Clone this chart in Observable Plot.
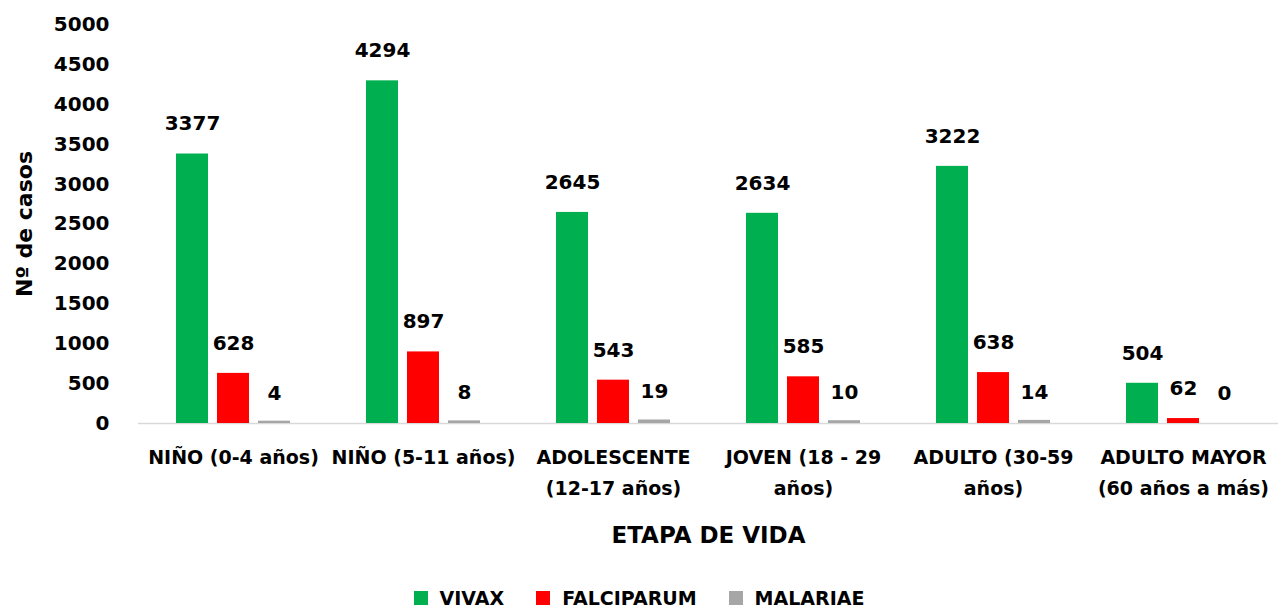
<!DOCTYPE html>
<html>
<head>
<meta charset="utf-8">
<script src="https://cdn.jsdelivr.net/npm/d3@7"></script>
<script src="https://cdn.jsdelivr.net/npm/@observablehq/plot@0.6"></script>
<style>
  html, body { margin: 0; padding: 0; background: #fff; }
  body { width: 1278px; font-family: "DejaVu Sans", sans-serif; }
  #legend { display: flex; justify-content: center; align-items: center; height: 42px; padding-top: 12px; font-weight: bold; font-size: 19px; color: #000; }
  .item { display: flex; align-items: center; margin: 0 16px; }
  .sw { width: 14px; height: 14px; margin-right: 12px; }
</style>
</head>
<body>
<div id="chart"></div>
<div id="legend"></div>
<script>
const categories = ["NIÑO (0-4 años)", "NIÑO (5-11 años)", "ADOLESCENTE\n(12-17 años)", "JOVEN (18 - 29\naños)", "ADULTO (30-59\naños)", "ADULTO MAYOR\n(60 años a más)"];
const series = ["VIVAX", "FALCIPARUM", "MALARIAE"];
const vivax = [3377, 4294, 2645, 2634, 3222, 504];
const falciparum = [628, 897, 543, 585, 638, 62];
const malariae = [4, 8, 19, 10, 14, 0];
const colors = ["#00B050", "#FF0000", "#A6A6A6"];
const yTicks = [0, 500, 1000, 1500, 2000, 2500, 3000, 3500, 4000, 4500, 5000];

const values = [vivax, falciparum, malariae];
const data = categories.flatMap((c, i) => series.map((s, j) => ({cat: c, serie: s, value: values[j][i]})));

const chart = Plot.plot({
  width: 1278,
  height: 565,
  marginLeft: 137,
  marginRight: 0,
  marginTop: 24,
  marginBottom: 142,
  style: {fontFamily: "DejaVu Sans", fontWeight: "bold", fontSize: "20px", color: "#000", background: "#fff"},
  fx: {domain: categories, padding: 0},
  x: {domain: series, paddingInner: 0.21, paddingOuter: 0.88, axis: null},
  y: {domain: [0, 5000]},
  color: {domain: series, range: colors},
  marks: [
    Plot.axisY({ticks: yTicks, tickFormat: d => String(d), tickSize: 0, tickPadding: 29, label: null, fontSize: 20, fontWeight: "bold"}),
    Plot.axisY({ticks: [], tickSize: 0, label: "Nº de casos", labelAnchor: "center", labelArrow: "none", labelOffset: 122, fontSize: 22, fontWeight: "bold"}),
    Plot.axisFx({anchor: "bottom", tickSize: 0, tickPadding: 18, label: null, fontSize: 19, fontWeight: "bold", lineHeight: 1.65}),
    Plot.axisFx({anchor: "bottom", ticks: [], tickSize: 0, label: "ETAPA DE VIDA", labelAnchor: "center", labelArrow: "none", labelOffset: 119, fontSize: 23, fontWeight: "bold"}),
    Plot.ruleY([0], {stroke: "#d9d9d9", strokeWidth: 1.5}),
    Plot.barY(data, {fx: "cat", x: "serie", y: "value", fill: "serie"}),
    Plot.barY(data.filter(d => d.serie === "MALARIAE" && d.value > 0), {fx: "cat", x: "serie", y: "value", fill: "serie", insetTop: -2}),
    Plot.text(data, {fx: "cat", x: "serie", y: "value", text: d => String(d.value), dy: -30, fontSize: 20, fontWeight: "bold", fill: "#000"})
  ]
});
document.getElementById("chart").appendChild(chart);

const legend = document.getElementById("legend");
series.forEach((s, i) => {
  const it = document.createElement("div");
  it.className = "item";
  const sw = document.createElement("div");
  sw.className = "sw";
  sw.style.background = colors[i];
  const t = document.createElement("span");
  t.textContent = s;
  it.appendChild(sw);
  it.appendChild(t);
  legend.appendChild(it);
});
</script>
</body>
</html>
